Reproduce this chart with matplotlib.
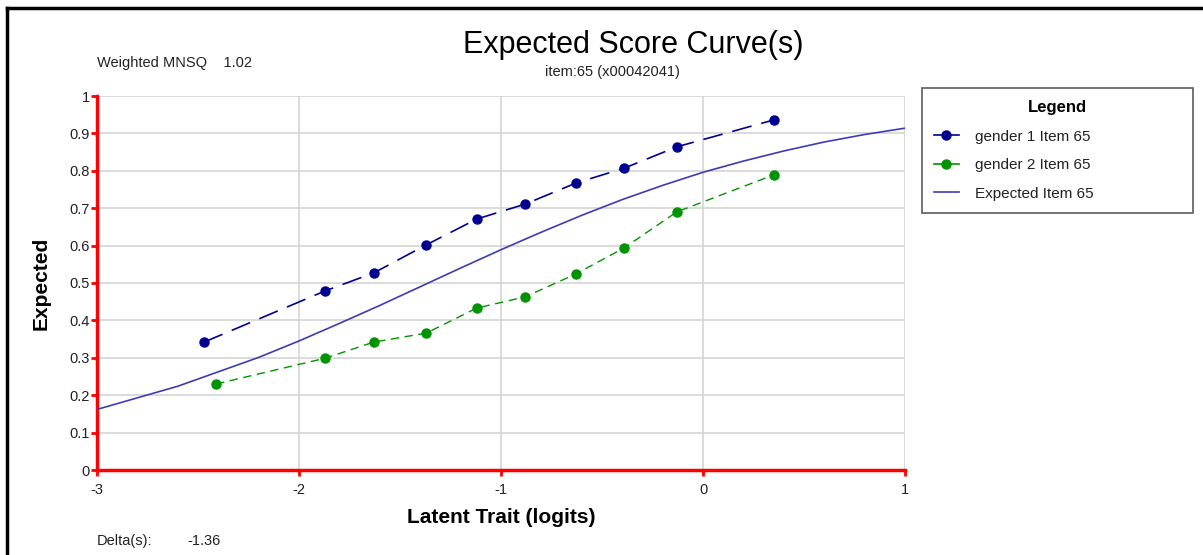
import matplotlib
matplotlib.use("Agg")
import matplotlib.pyplot as plt
from matplotlib.lines import Line2D

# Data
g1_x = [-2.47, -1.87, -1.63, -1.37, -1.12, -0.88, -0.63, -0.39, -0.13, 0.35]
g1_y = [0.342, 0.479, 0.527, 0.602, 0.671, 0.711, 0.767, 0.807, 0.864, 0.936]
g2_x = [-2.41, -1.87, -1.63, -1.37, -1.12, -0.88, -0.63, -0.39, -0.13, 0.35]
g2_y = [0.230, 0.299, 0.342, 0.366, 0.433, 0.463, 0.524, 0.594, 0.690, 0.789]
exp_x = [-3.0, -2.6, -2.2, -2.0, -1.8, -1.6, -1.4, -1.2, -1.0, -0.8,
         -0.6, -0.4, -0.2, 0.0, 0.2, 0.4, 0.6, 0.8, 1.0]
exp_y = [0.162, 0.224, 0.301, 0.345, 0.392, 0.440, 0.490, 0.540, 0.589, 0.636,
         0.681, 0.723, 0.761, 0.796, 0.826, 0.853, 0.877, 0.897, 0.914]
x_ticks = [-3, -2, -1, 0, 1]
y_ticks = [0, 0.1, 0.2, 0.3, 0.4, 0.5, 0.6, 0.7, 0.8, 0.9, 1]
y_tick_labels = ["0", "0.1", "0.2", "0.3", "0.4", "0.5", "0.6", "0.7", "0.8", "0.9", "1"]

plt.rcParams["font.family"] = ["Liberation Sans", "DejaVu Sans"]

W, H = 1203, 555
fig = plt.figure(figsize=(W / 100, H / 100), dpi=100)
ax = fig.add_axes([97 / W, 1 - 470 / H, (905 - 97) / W, (470 - 96) / H])

ax.plot(exp_x, exp_y, color="#3c3cb4", lw=1.2, label="Expected Item 65", zorder=3)
ax.plot(g1_x, g1_y, color="#000090", lw=1.2, dashes=(12, 6), marker="o", ms=6.5,
        label="gender 1 Item 65", zorder=4)
ax.plot(g2_x, g2_y, color="#009400", lw=1.0, dashes=(6, 4), marker="o", ms=6.5,
        label="gender 2 Item 65", zorder=4)

ax.set_xlim(-3, 1)
ax.set_ylim(0, 1)
ax.set_xticks(x_ticks)
ax.set_xticklabels([str(t) for t in x_ticks])
ax.set_yticks(y_ticks)
ax.set_yticklabels(y_tick_labels)
ax.grid(True, color="#d4d4d4", lw=1.2)
ax.set_axisbelow(True)

for side in ["top", "right"]:
    ax.spines[side].set_visible(False)
for side in ["left", "bottom"]:
    ax.spines[side].set_color("red")
    ax.spines[side].set_linewidth(2.5)
ax.tick_params(colors="red", width=2, length=4, labelsize=10.5, labelcolor="#222222")
ax.tick_params(axis="y", pad=1)
ax.tick_params(axis="x", pad=5)

ax.set_xlabel("Latent Trait (logits)", fontsize=15, fontweight="bold", labelpad=8)
ax.set_ylabel("Expected", fontsize=15, fontweight="bold", labelpad=14)

# titles and annotations
fig.text(633 / W, 1 - 45 / H, "Expected Score Curve(s)", ha="center", va="center", fontsize=22)
fig.text(612 / W, 1 - 72 / H, "item:65 (x00042041)", ha="center", va="center",
         fontsize=10.5, color="#222222")
fig.text(97 / W, 1 - 63 / H, "Weighted MNSQ    1.02", ha="left", va="center",
         fontsize=10.5, color="#222222")
fig.text(97 / W, 1 - 541 / H, "Delta(s):", ha="left", va="center",
         fontsize=10.5, color="#222222")
fig.text(187 / W, 1 - 541 / H, "-1.36", ha="left", va="center",
         fontsize=10.5, color="#222222")

# legend in its own box
handles, labels = ax.get_legend_handles_labels()
order = [1, 2, 0]
leg_handles = [Line2D([0], [0], color=handles[i].get_color(), lw=1.2,
                      marker=handles[i].get_marker(), ms=6.5) for i in order]
leg = fig.legend(leg_handles, [labels[i] for i in order], title="Legend",
                 loc="upper left", bbox_to_anchor=(922 / W, 1 - 213 / H, 271 / W, 125 / H),
                 mode="expand", frameon=True, fancybox=False, edgecolor="#333333",
                 fontsize=11, title_fontsize=12, handlelength=1.6, handletextpad=1.1,
                 borderpad=0.8, labelspacing=0.95, borderaxespad=0)
leg.get_title().set_fontweight("bold")
leg.get_frame().set_linewidth(1.2)
leg._legend_box.align = "center"
for t in leg.get_texts():
    t.set_color("#222222")

# frame border (top and left only)
fig.add_artist(Line2D([7 / W, 7 / W], [0, 1 - 8 / H], color="black", lw=2.5,
                      transform=fig.transFigure))
fig.add_artist(Line2D([7 / W, 1], [1 - 8 / H, 1 - 8 / H], color="black", lw=2.5,
                      transform=fig.transFigure))

fig.savefig("out.png", dpi=100)
